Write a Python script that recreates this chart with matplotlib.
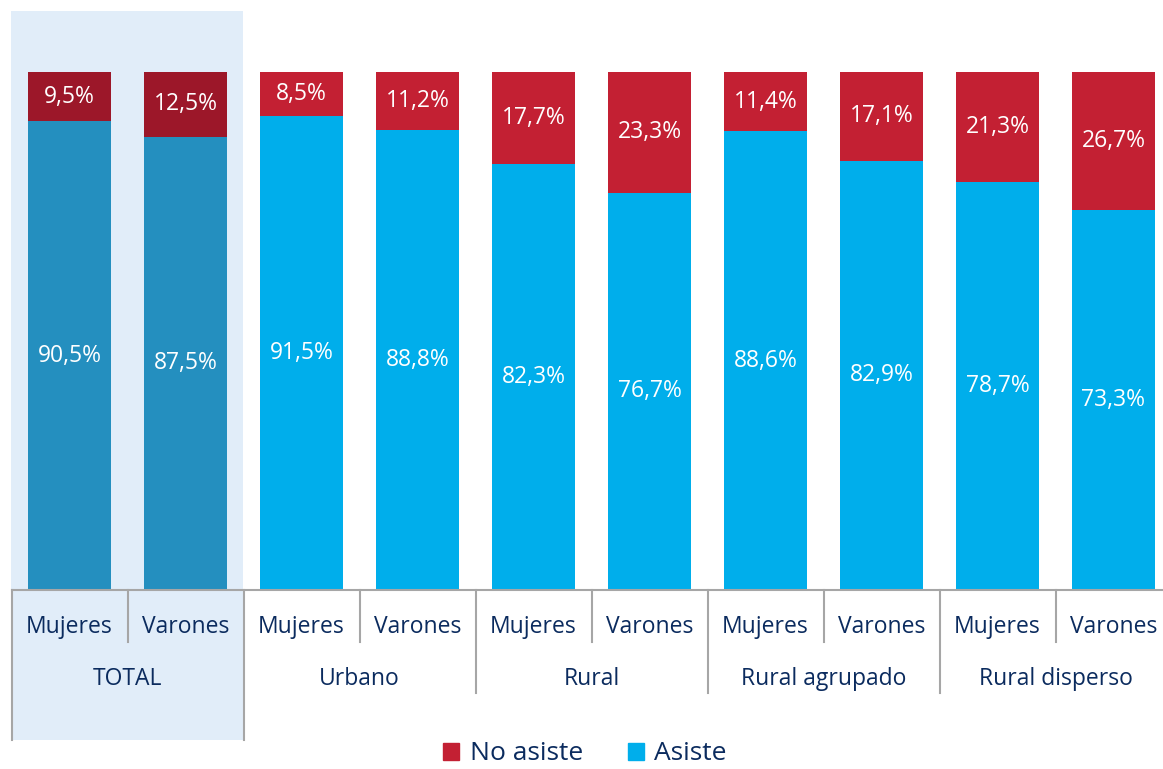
import matplotlib
matplotlib.use("Agg")
import matplotlib.pyplot as plt
from matplotlib.patches import Rectangle, Patch
from matplotlib.lines import Line2D

plt.rcParams['font.family'] = ['Open Sans', 'DejaVu Sans']

groups = ["TOTAL", "Urbano", "Rural", "Rural agrupado", "Rural disperso"]
sexes = ["Mujeres", "Varones"]
asiste = [90.5, 87.5, 91.5, 88.8, 82.3, 76.7, 88.6, 82.9, 78.7, 73.3]
no_asiste = [9.5, 12.5, 8.5, 11.2, 17.7, 23.3, 11.4, 17.1, 21.3, 26.7]

W, H = 1163, 769
fig = plt.figure(figsize=(W / 100, H / 100), dpi=100)

ax = fig.add_axes([11.5 / W, (H - 590) / H, (W - 11.5) / W, 518 / H])
ax.patch.set_alpha(0)
for s in ax.spines.values():
    s.set_visible(False)
ax.set_xticks([])
ax.set_yticks([])
ax.set_ylim(0, 100)
ax.set_xlim(-0.5, (W - 11.5) / 116 - 0.5)

# light background panel for TOTAL
ax.add_patch(Rectangle((11 / W, 1 - 740 / H), (243 - 11) / W, (740 - 11) / H,
                       transform=fig.transFigure, facecolor="#E1EDF9",
                       edgecolor="none", zorder=0.5, clip_on=False))

x = list(range(len(asiste)))
c_as = ["#248FBF"] * 2 + ["#00AEEB"] * 8
c_no = ["#9C1729"] * 2 + ["#C32033"] * 8
ax.bar(x, asiste, width=0.72, color=c_as, zorder=2)
ax.bar(x, no_asiste, bottom=asiste, width=0.72, color=c_no, zorder=2)

def fmt(v):
    return f"{v:.1f}%".replace(".", ",")

for i in x:
    ax.text(i, asiste[i] / 2, fmt(asiste[i]), ha="center", va="center",
            color="white", fontsize=16.5, fontweight="medium", zorder=3)
    ax.text(i, asiste[i] + no_asiste[i] / 2, fmt(no_asiste[i]), ha="center", va="center",
            color="white", fontsize=16.5, fontweight="medium", zorder=3)

def py(p):
    return (590 - p) / 518 * 100

navy = "#0B2B5E"
grey = "#A6A6A6"
# axis line
ax.add_line(Line2D([-0.5, 9.5], [0, 0], color=grey, lw=1.5, clip_on=False, zorder=3))
# category labels
for i in x:
    ax.text(i, py(627), sexes[i % 2], ha="center", va="center", color=navy,
            fontsize=16.5, fontweight="medium", clip_on=False, zorder=3)
    if i % 2 == 1:
        ax.add_line(Line2D([i - 0.5, i - 0.5], [0, py(642)], color=grey, lw=1.5,
                           clip_on=False, zorder=3))
for g, name in enumerate(groups):
    ax.text(2 * g + 0.5, py(679), name, ha="center", va="center", color=navy,
            fontsize=16.5, fontweight="medium", clip_on=False, zorder=3)
# group dividers
for g in range(len(groups)):
    xb = 2 * g - 0.5
    bottom = py(740) if g <= 1 else py(693)
    ax.add_line(Line2D([xb, xb], [0, bottom], color=grey, lw=1.5, clip_on=False, zorder=3))

handles = [Patch(color="#C32033", label="No asiste"), Patch(color="#00AEEB", label="Asiste")]
fig.legend(handles=handles, loc="center", bbox_to_anchor=(585 / W, 1 - 754 / H),
           ncol=2, frameon=False, handlelength=0.6, handleheight=0.6,
           handletextpad=0.4, columnspacing=1.7, labelcolor=navy,
           borderpad=0.1, borderaxespad=0.1,
           prop={"size": 19, "weight": "medium"})

fig.savefig("out.png", dpi=100)
